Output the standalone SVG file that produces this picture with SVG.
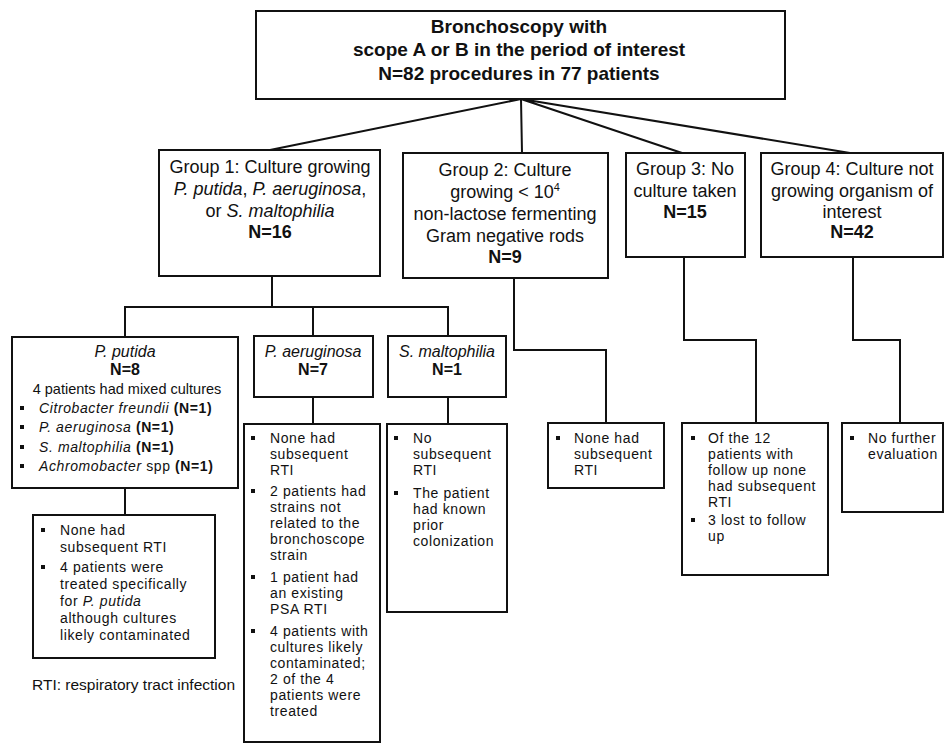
<svg xmlns="http://www.w3.org/2000/svg" width="946" height="743" viewBox="0 0 946 743">
<style>
.box{fill:#fff;stroke:#111;stroke-width:2}
.conn{fill:none;stroke:#111;stroke-width:2}
text{font-family:"Liberation Sans",Arial,Helvetica,sans-serif;fill:#111}
.top{font-size:19px;font-weight:bold;text-anchor:middle}
.grp{font-size:18px;text-anchor:middle}
.hd{font-size:16px;text-anchor:middle}
.sm{font-size:14px;letter-spacing:0.6px}
.mid{font-size:14.5px;text-anchor:middle}
.foot{font-size:15.5px}
.b{font-weight:bold}
.i{font-style:italic}
.bul{fill:#111}
</style>
<rect width="946" height="743" fill="#fff"/>
<g id="connectors">
<path class="conn" d="M521,99 L270,150 M521,99 L522,153 M521,99 L682,153 M521,99 L850,153"/>
<path class="conn" d="M272,276 V307 M125,337 V307 H448 V336 M313,307 V336"/>
<path class="conn" d="M125,488 V515 M313,397 V424 M448,397 V424"/>
<path class="conn" d="M514,278 V350 H606 V423"/>
<path class="conn" d="M684,257 V340 H756 V423"/>
<path class="conn" d="M853,257 V340 H900 V423"/>
</g>
<g id="root">
<rect class="box" x="256" y="11" width="529" height="88"/>
<text class="top" x="519" y="33">Bronchoscopy with</text>
<text class="top" x="519" y="56">scope A or B in the period of interest</text>
<text class="top" x="519" y="80">N=82 procedures in 77 patients</text>
</g>
<g id="group1">
<rect class="box" x="159" y="150" width="221" height="126"/>
<text class="grp" x="270" y="173">Group 1: Culture growing</text>
<text class="grp" x="270" y="195"><tspan class="i">P. putida</tspan>,  <tspan class="i">P. aeruginosa</tspan>,</text>
<text class="grp" x="270" y="217">or <tspan class="i">S. maltophilia</tspan></text>
<text class="grp b" x="270" y="238">N=16</text>
</g>
<g id="group2">
<rect class="box" x="403" y="153" width="205" height="125"/>
<text class="grp" x="505" y="176">Group 2: Culture</text>
<text class="grp" x="505" y="198">growing &lt; 10<tspan font-size="11" dy="-7">4</tspan></text>
<text class="grp" x="505" y="220">non-lactose fermenting</text>
<text class="grp" x="505" y="242">Gram negative rods</text>
<text class="grp b" x="505" y="263">N=9</text>
</g>
<g id="group3">
<rect class="box" x="626" y="153" width="119" height="104"/>
<text class="grp" x="685" y="175">Group 3: No</text>
<text class="grp" x="685" y="197">culture taken</text>
<text class="grp b" x="685" y="218">N=15</text>
</g>
<g id="group4">
<rect class="box" x="761" y="153" width="182" height="104"/>
<text class="grp" x="852" y="175">Group 4: Culture not</text>
<text class="grp" x="852" y="197">growing organism of</text>
<text class="grp" x="852" y="218">interest</text>
<text class="grp b" x="852" y="238">N=42</text>
</g>
<g id="pputida">
<rect class="box" x="12" y="337" width="226" height="151"/>
<text class="hd i" x="125" y="357">P. putida</text>
<text class="hd b" x="125" y="375">N=8</text>
<text class="mid" x="127" y="394">4 patients had mixed cultures</text>
<rect class="bul" x="20" y="406" width="4" height="4"/>
<text class="sm" x="39" y="413"><tspan class="i">Citrobacter freundii</tspan> <tspan class="b">(N=1)</tspan></text>
<rect class="bul" x="20" y="425" width="4" height="4"/>
<text class="sm" x="39" y="432"><tspan class="i">P. aeruginosa</tspan> <tspan class="b">(N=1)</tspan></text>
<rect class="bul" x="20" y="445" width="4" height="4"/>
<text class="sm" x="39" y="452"><tspan class="i">S. maltophilia</tspan> <tspan class="b">(N=1)</tspan></text>
<rect class="bul" x="20" y="464" width="4" height="4"/>
<text class="sm" x="39" y="471"><tspan class="i">Achromobacter</tspan> spp <tspan class="b">(N=1)</tspan></text>
</g>
<g id="paeruginosa">
<rect class="box" x="254" y="336" width="119" height="61"/>
<text class="hd i" x="313" y="357">P. aeruginosa</text>
<text class="hd b" x="313" y="375">N=7</text>
</g>
<g id="smaltophilia">
<rect class="box" x="388" y="336" width="118" height="61"/>
<text class="hd i" x="447" y="357">S. maltophilia</text>
<text class="hd b" x="447" y="375">N=1</text>
</g>
<g id="pputida-outcome">
<rect class="box" x="33" y="515" width="182" height="143"/>
<rect class="bul" x="41" y="528" width="4" height="4"/>
<text class="sm" x="60" y="535">None had</text>
<text class="sm" x="60" y="552">subsequent RTI</text>
<rect class="bul" x="41" y="565" width="4" height="4"/>
<text class="sm" x="60" y="572">4 patients were</text>
<text class="sm" x="60" y="589">treated specifically</text>
<text class="sm" x="60" y="606">for <tspan class="i">P. putida</tspan></text>
<text class="sm" x="60" y="623">although cultures</text>
<text class="sm" x="60" y="640">likely contaminated</text>
</g>
<g id="paeruginosa-outcome">
<rect class="box" x="244" y="424" width="136" height="318"/>
<rect class="bul" x="251" y="436" width="4" height="4"/>
<text class="sm" x="270" y="443">None had</text>
<text class="sm" x="270" y="459">subsequent</text>
<text class="sm" x="270" y="475">RTI</text>
<rect class="bul" x="251" y="489" width="4" height="4"/>
<text class="sm" x="270" y="496">2 patients had</text>
<text class="sm" x="270" y="512">strains not</text>
<text class="sm" x="270" y="528">related to the</text>
<text class="sm" x="270" y="544">bronchoscope</text>
<text class="sm" x="270" y="560">strain</text>
<rect class="bul" x="251" y="575" width="4" height="4"/>
<text class="sm" x="270" y="582">1 patient had</text>
<text class="sm" x="270" y="598">an existing</text>
<text class="sm" x="270" y="614">PSA RTI</text>
<rect class="bul" x="251" y="629" width="4" height="4"/>
<text class="sm" x="270" y="636">4 patients with</text>
<text class="sm" x="270" y="652">cultures likely</text>
<text class="sm" x="270" y="668">contaminated;</text>
<text class="sm" x="270" y="684">2 of the 4</text>
<text class="sm" x="270" y="700">patients were</text>
<text class="sm" x="270" y="716">treated</text>
</g>
<g id="smaltophilia-outcome">
<rect class="box" x="387" y="424" width="120" height="188"/>
<rect class="bul" x="394" y="436" width="4" height="4"/>
<text class="sm" x="413" y="443">No</text>
<text class="sm" x="413" y="459">subsequent</text>
<text class="sm" x="413" y="475">RTI</text>
<rect class="bul" x="394" y="491" width="4" height="4"/>
<text class="sm" x="413" y="498">The patient</text>
<text class="sm" x="413" y="514">had known</text>
<text class="sm" x="413" y="530">prior</text>
<text class="sm" x="413" y="546">colonization</text>
</g>
<g id="group2-outcome">
<rect class="box" x="548" y="423" width="116" height="65"/>
<rect class="bul" x="556" y="436" width="4" height="4"/>
<text class="sm" x="574" y="443">None had</text>
<text class="sm" x="574" y="459">subsequent</text>
<text class="sm" x="574" y="475">RTI</text>
</g>
<g id="group3-outcome">
<rect class="box" x="682" y="423" width="146" height="152"/>
<rect class="bul" x="691" y="436" width="4" height="4"/>
<text class="sm" x="708" y="443">Of the 12</text>
<text class="sm" x="708" y="459">patients with</text>
<text class="sm" x="708" y="475">follow up none</text>
<text class="sm" x="708" y="491">had subsequent</text>
<text class="sm" x="708" y="507">RTI</text>
<rect class="bul" x="691" y="518" width="4" height="4"/>
<text class="sm" x="708" y="525">3 lost to follow</text>
<text class="sm" x="708" y="541">up</text>
</g>
<g id="group4-outcome">
<rect class="box" x="842" y="423" width="101" height="89"/>
<rect class="bul" x="850" y="436" width="4" height="4"/>
<text class="sm" x="868" y="443">No further</text>
<text class="sm" x="868" y="459">evaluation</text>
</g>
<g id="footnote">
<text class="foot" x="32" y="690">RTI: respiratory tract infection</text>
</g>
</svg>
